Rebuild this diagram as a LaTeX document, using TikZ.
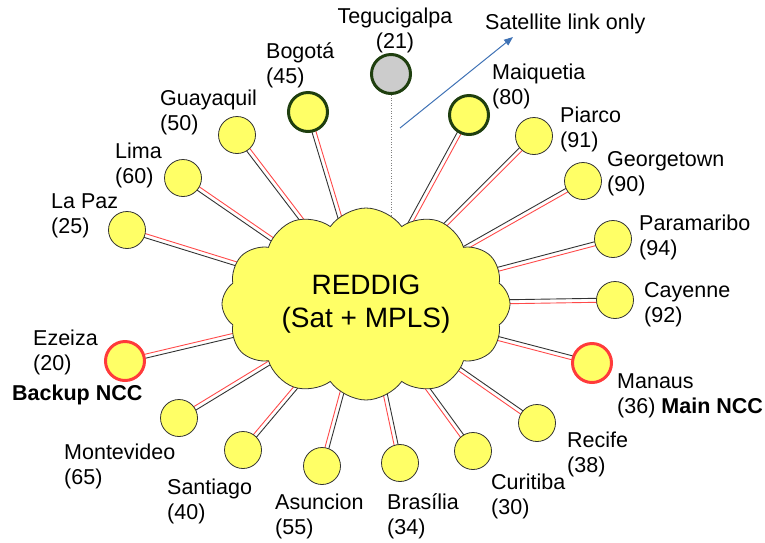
\documentclass[tikz,border=0pt]{standalone}
\usepackage{fontspec}
\setmainfont{Liberation Sans}
\usetikzlibrary{calc,shapes.symbols,arrows.meta,backgrounds}
\definecolor{sitefill}{HTML}{FFFF66}
\definecolor{nccred}{HTML}{FF3B3B}
\definecolor{keygreen}{HTML}{1F3F0F}
\definecolor{satblue}{HTML}{3F72B5}
\definecolor{linkred}{HTML}{FF4A4A}
\begin{document}
\begin{tikzpicture}[x=1pt,y=-1pt,
    site/.style={circle,draw=black!80,line width=0.8pt,fill=sitefill,minimum size=37pt,inner sep=0pt},
    green site/.style={site,draw=keygreen,line width=3pt,minimum size=39pt},
    ncc site/.style={site,draw=nccred,line width=3pt,minimum size=39pt},
    sitename/.style={font=\fontsize{21.5}{25.5}\selectfont,align=left,anchor=base west,inner sep=0pt}]
        \useasboundingbox (0,0) rectangle (765,542);
        \node[cloud,cloud puffs=12,cloud puff arc=110,cloud ignores aspect,minimum width=288pt,minimum height=192pt,
              draw=black!80,line width=0.8pt,fill=sitefill,align=center,font=\fontsize{28}{33}\selectfont,inner sep=0pt]
              (hub) at (366,304) {REDDIG\\(Sat + MPLS)};
        \node[site,green site,fill=gray!40] (teg) at (391,74) {};
        \node[site] (lapaz) at (127,230) {};
        \node[site] (lima) at (183,178) {};
        \node[site] (guayaquil) at (237,135) {};
        \node[site,green site] (bogota) at (308,112) {};
        \node[site,green site] (maiquetia) at (469,115) {};
        \node[site] (piarco) at (534,136) {};
        \node[site] (georgetown) at (583,181) {};
        \node[site] (paramaribo) at (613,239) {};
        \node[site] (cayenne) at (615,300) {};
        \node[site,ncc site] (manaus) at (592,363) {};
        \node[site] (recife) at (537,423) {};
        \node[site] (curitiba) at (473,451) {};
        \node[site] (brasilia) at (400,463) {};
        \node[site] (asuncion) at (322,466) {};
        \node[site] (santiago) at (243,450) {};
        \node[site] (montevideo) at (179,418) {};
        \node[site,ncc site] (ezeiza) at (125,361) {};
        \begin{scope}[on background layer]
            \foreach \n in {lapaz,lima,guayaquil,bogota,maiquetia,piarco,georgetown,paramaribo,cayenne,manaus,recife,curitiba,brasilia,asuncion,santiago,montevideo,ezeiza} {
                \draw[black!80,line width=0.9pt] ($(hub.center)!2pt!90:(\n)$) -- ($(\n)!2pt!-90:(hub.center)$);
                \draw[linkred,line width=0.9pt] ($(hub.center)!2pt!-90:(\n)$) -- ($(\n)!2pt!90:(hub.center)$);
            }
            \draw[gray,dotted,line width=0.6pt] (teg) -- (teg |- hub.center);
        \end{scope}
        \node[sitename,align=center,anchor=base] (tegtext) at (395,48.5) {Tegucigalpa\\(21)};
        \node[sitename] (lapaztext) at (51,233.5) {La Paz\\(25)};
        \node[sitename] (limatext) at (115,183.5) {Lima\\(60)};
        \node[sitename] (guayaquiltext) at (160,130.5) {Guayaquil\\(50)};
        \node[sitename] (bogotatext) at (266,83.5) {Bogotá\\(45)};
        \node[sitename] (maiquetiatext) at (492,104.5) {Maiquetia\\(80)};
        \node[sitename] (piarcotext) at (560,147.5) {Piarco\\(91)};
        \node[sitename] (georgetowntext) at (607,191.5) {Georgetown\\(90)};
        \node[sitename] (paramaribotext) at (639,255.5) {Paramaribo\\(94)};
        \node[sitename] (cayennetext) at (644,322.5) {Cayenne\\(92)};
        \node[sitename] (manaustext) at (617,413.5) {Manaus\\(36) \textbf{Main NCC}};
        \node[sitename] (recifetext) at (567,472.5) {Recife\\(38)};
        \node[sitename] (curitibatext) at (491,514.5) {Curitiba\\(30)};
        \node[sitename] (brasiliatext) at (387,534.5) {Brasília\\(34)};
        \node[sitename] (asunciontext) at (275,534.5) {Asuncion\\(55)};
        \node[sitename] (santiagotext) at (167,519.5) {Santiago\\(40)};
        \node[sitename] (montevideotext) at (64,484.5) {Montevideo\\(65)};
        \node[sitename] (ezeizatext) at (33,370.5) {Ezeiza\\(20)};
        \node[sitename,font=\fontsize{21.5}{25.5}\selectfont\bfseries] (backupncc) at (12,400) {Backup NCC};
        \node[sitename] (sattext) at (485,29) {Satellite link only};
        \coordinate (sattail) at (400,128);
        \coordinate (sathead) at (513,37);
        \draw[satblue,line width=1pt,-{Triangle[length=9pt,width=7pt]}] (sattail) -- (sathead);
\end{tikzpicture}
\end{document}
